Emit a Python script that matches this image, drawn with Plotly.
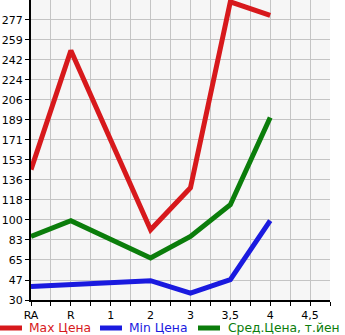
import plotly.graph_objects as go

categories = ["RA", "R", "1", "2", "3", "3,5", "4", "4,5"]
max_price = [145, 250, None, 92, 129, 293, 281, None]
min_price = [42, None, None, 47, 36, 48, 100, None]
avg_price = [86, 100, None, 67, 86, 114, 191, None]
y_ticks = [30, 47.64, 65.29, 82.93, 100.57, 118.21, 135.86, 153.5, 171.14, 188.79, 206.43, 224.07, 241.71, 259.36, 277.0]
y_tick_labels = ["30", "47", "65", "83", "100", "118", "136", "153", "171", "189", "206", "224", "242", "259", "277"]
series_names = ["Max Цена", "Min Цена", "Сред.Цена, т.йен"]
colors = ["#d7191c", "#1a1adf", "#0b7d0b"]

xpos = list(range(len(categories)))
fig = go.Figure()
for name, vals, col in zip(series_names, [max_price, min_price, avg_price], colors):
    fig.add_trace(go.Scatter(x=xpos, y=vals, mode="lines", name=name,
                             connectgaps=True,
                             line=dict(color=col, width=5), showlegend=False))

L, R, T, B = 31, 15, 0, 35
W, H = 345, 335
pw, ph = W - L - R, H - T - B

def px_x(p):
    return (p - L) / pw

def px_y(p):
    return (ph - (p - T)) / ph

# manual legend
leg_items = [(0, 22, 29), (100, 122, 129), (198, 220, 228)]
ly = 328
for (x0, x1, tx), name, col in zip(leg_items, series_names, colors):
    fig.add_shape(type="line", xref="paper", yref="paper",
                  x0=px_x(x0), x1=px_x(x1), y0=px_y(ly), y1=px_y(ly),
                  line=dict(color=col, width=5))
    fig.add_annotation(xref="paper", yref="paper", x=px_x(tx), y=px_y(ly),
                       text=name, showarrow=False, xanchor="left", yanchor="middle",
                       xshift=-1, borderpad=0,
                       font=dict(color=col, size=12.3, family="DejaVu Sans"))

fig.update_layout(
    width=W, height=H,
    margin=dict(l=L, r=R, t=T, b=B),
    paper_bgcolor="white", plot_bgcolor="#f6f6f6",
    font=dict(family="DejaVu Sans", size=11, color="black"),
)
fig.update_xaxes(range=[0, 7.5], tickvals=xpos, ticktext=categories,
                 showgrid=True, gridcolor="#c4c4c4", gridwidth=1,
                 ticks="outside", ticklen=4, tickcolor="black",
                 showline=True, linecolor="black", linewidth=2,
                 zeroline=False,
                 minor=dict(tick0=0.5, dtick=1, showgrid=True, gridcolor="#c4c4c4",
                            ticks="outside", ticklen=4, tickcolor="black"))
fig.update_yaxes(range=[30, 294.6], tickvals=y_ticks, ticktext=y_tick_labels,
                 showgrid=True, gridcolor="#c4c4c4", gridwidth=1,
                 ticks="outside", ticklen=4, tickcolor="black",
                 showline=True, linecolor="black", linewidth=2,
                 zeroline=False)

fig.write_html("out.html")
